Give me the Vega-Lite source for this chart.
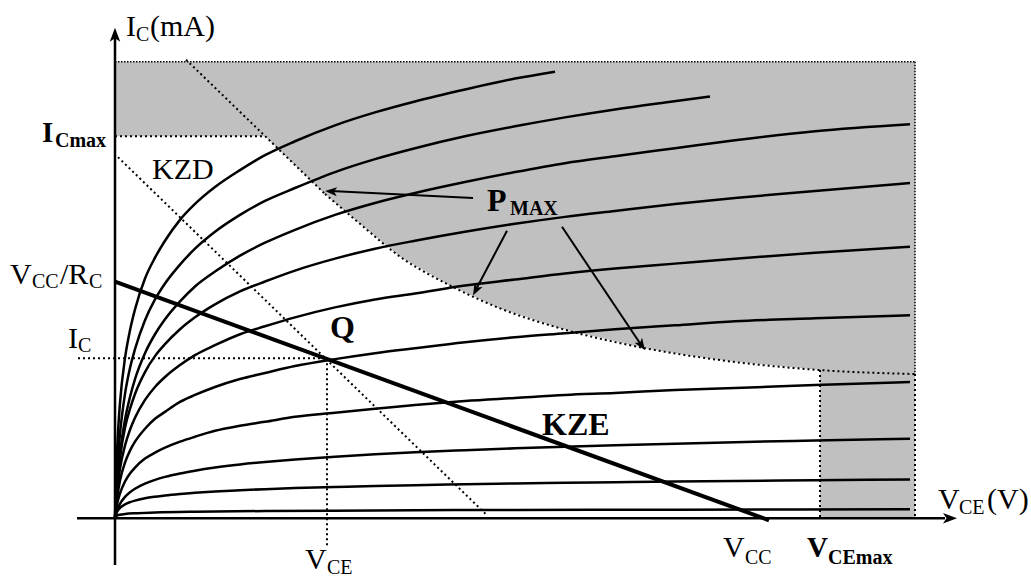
{
 "$schema": "https://vega.github.io/schema/vega-lite/v6.json",
 "width": 1031, "height": 578,
 "autosize": {"type": "fit", "contains": "padding"},
 "padding": 0,
 "background": "white",
 "config": {"view": {"stroke": null}},
 "datasets": {
  "shade": [
   {"V": 0, "I": 45.9, "I2": 38.4}, {"V": 15, "I": 45.9, "I2": 38.4}, {"V": 21, "I": 45.9, "I2": 32.6},
   {"V": 24.5, "I": 45.9, "I2": 29.6}, {"V": 28.5, "I": 45.9, "I2": 26.3}, {"V": 33.5, "I": 45.9, "I2": 23.4},
   {"V": 38.5, "I": 45.9, "I2": 21.1}, {"V": 44.5, "I": 45.9, "I2": 19.1}, {"V": 53, "I": 45.9, "I2": 17.1},
   {"V": 60.5, "I": 45.9, "I2": 15.9}, {"V": 70.5, "I": 45.9, "I2": 14.9}, {"V": 80, "I": 45.9, "I2": 14.5}
  ],
  "box": [{"V": 70.5, "V2": 80, "I": 0, "I2": 14.9}],
  "pmax": [
   {"V": 21, "I": 32.6}, {"V": 24.5, "I": 29.6}, {"V": 28.5, "I": 26.3}, {"V": 33.5, "I": 23.4},
   {"V": 38.5, "I": 21.1}, {"V": 44.5, "I": 19.1}, {"V": 53, "I": 17.1}, {"V": 60.5, "I": 15.9},
   {"V": 70.5, "I": 14.9}, {"V": 80, "I": 14.5}
  ],
  "dotsA": [
   {"V": 0, "I": 38.4, "V2": 15, "I2": 38.4},
   {"V": 7.1, "I": 46.1, "V2": 21, "I2": 32.6},
   {"V": 0.3, "I": 36.3, "V2": 37.1, "I2": 0.4},
   {"V": -3.7, "I": 16.1, "V2": 21.2, "I2": 16.1},
   {"V": 21.2, "I": 16.1, "V2": 21.2, "I2": -3},
   {"V": 70.5, "I": 14.9, "V2": 70.5, "I2": 0},
   {"V": 80, "I": 14.5, "V2": 80, "I2": 0}
  ],
  "dotsB": [
   {"V": 0, "I": 45.9, "V2": 80, "I2": 45.9},
   {"V": 80, "I": 45.9, "V2": 80, "I2": 14.5}
  ],
  "axes": [
   {"V": 0, "I": -4.7, "V2": 0, "I2": 48.5},
   {"V": -3.8, "I": 0, "V2": 83, "I2": 0}
  ],
  "load": [{"V": 0, "I": 23.8, "V2": 65.4, "I2": -0.2}],
  "shafts": [
   {"V": 35.8, "I": 32.2, "V2": 21.6, "I2": 32.9},
   {"V": 39.2, "I": 28.9, "V2": 36.2, "I2": 23.2},
   {"V": 44.7, "I": 29.3, "V2": 52.5, "I2": 17.6}
  ],
  "heads": [
   {"name": "y", "V": 0, "I": 49.3},
   {"name": "x", "V": 84.2, "I": 0},
   {"name": "a1", "V": 21, "I": 32.9},
   {"name": "a2", "V": 35.8, "I": 22.4},
   {"name": "a3", "V": 53, "I": 16.9}
  ],
  "curves": [
   {"c": 1, "V": 0, "I": 0}, {"c": 1, "V": 0.1, "I": 4.0}, {"c": 1, "V": 0.25, "I": 7.7}, {"c": 1, "V": 0.5, "I": 11.6},
   {"c": 1, "V": 1, "I": 16.1}, {"c": 1, "V": 1.5, "I": 18.9}, {"c": 1, "V": 2, "I": 21.0}, {"c": 1, "V": 3, "I": 24.1},
   {"c": 1, "V": 4, "I": 26.2}, {"c": 1, "V": 5, "I": 27.9}, {"c": 1, "V": 6.5, "I": 30.0}, {"c": 1, "V": 8, "I": 31.6},
   {"c": 1, "V": 10, "I": 33.3}, {"c": 1, "V": 12.5, "I": 35.0}, {"c": 1, "V": 15, "I": 36.5}, {"c": 1, "V": 18, "I": 37.9},
   {"c": 1, "V": 22, "I": 39.5}, {"c": 1, "V": 26, "I": 40.8}, {"c": 1, "V": 30, "I": 41.9}, {"c": 1, "V": 35, "I": 43.1},
   {"c": 1, "V": 40, "I": 44.2}, {"c": 1, "V": 44, "I": 44.9},
   {"c": 2, "V": 0, "I": 0}, {"c": 2, "V": 0.1, "I": 2.6}, {"c": 2, "V": 0.25, "I": 5.4}, {"c": 2, "V": 0.5, "I": 8.5},
   {"c": 2, "V": 1, "I": 12.5}, {"c": 2, "V": 1.5, "I": 15.1}, {"c": 2, "V": 2, "I": 17.0}, {"c": 2, "V": 3, "I": 19.9},
   {"c": 2, "V": 4, "I": 22.0}, {"c": 2, "V": 5, "I": 23.6}, {"c": 2, "V": 6.5, "I": 25.5}, {"c": 2, "V": 8, "I": 27.1},
   {"c": 2, "V": 10, "I": 28.8}, {"c": 2, "V": 12.5, "I": 30.5}, {"c": 2, "V": 15, "I": 31.9}, {"c": 2, "V": 18, "I": 33.2},
   {"c": 2, "V": 22, "I": 34.8}, {"c": 2, "V": 26, "I": 36.1}, {"c": 2, "V": 30, "I": 37.2}, {"c": 2, "V": 35, "I": 38.4},
   {"c": 2, "V": 40, "I": 39.4}, {"c": 2, "V": 45, "I": 40.3}, {"c": 2, "V": 50, "I": 41.1}, {"c": 2, "V": 55, "I": 41.8},
   {"c": 2, "V": 59.5, "I": 42.4},
   {"c": 3, "V": 0, "I": 0}, {"c": 3, "V": 0.1, "I": 1.8}, {"c": 3, "V": 0.25, "I": 4.0}, {"c": 3, "V": 0.5, "I": 6.5},
   {"c": 3, "V": 1, "I": 9.9}, {"c": 3, "V": 1.5, "I": 12.2}, {"c": 3, "V": 2, "I": 14.0}, {"c": 3, "V": 3, "I": 16.6},
   {"c": 3, "V": 4, "I": 18.5}, {"c": 3, "V": 5, "I": 20.0}, {"c": 3, "V": 6.5, "I": 21.8}, {"c": 3, "V": 8, "I": 23.3},
   {"c": 3, "V": 10, "I": 24.8}, {"c": 3, "V": 12.5, "I": 26.4}, {"c": 3, "V": 15, "I": 27.7}, {"c": 3, "V": 18, "I": 29.0},
   {"c": 3, "V": 22, "I": 30.5}, {"c": 3, "V": 26, "I": 31.7}, {"c": 3, "V": 30, "I": 32.7}, {"c": 3, "V": 35, "I": 33.8},
   {"c": 3, "V": 40, "I": 34.8}, {"c": 3, "V": 45, "I": 35.7}, {"c": 3, "V": 50, "I": 36.4}, {"c": 3, "V": 56, "I": 37.2},
   {"c": 3, "V": 62, "I": 38.0}, {"c": 3, "V": 70, "I": 38.9}, {"c": 3, "V": 79.5, "I": 39.6},
   {"c": 4, "V": 0, "I": 0}, {"c": 4, "V": 0.1, "I": 1.8}, {"c": 4, "V": 0.25, "I": 3.8}, {"c": 4, "V": 0.5, "I": 6.1},
   {"c": 4, "V": 1, "I": 9.1}, {"c": 4, "V": 1.5, "I": 11.0}, {"c": 4, "V": 2, "I": 12.5}, {"c": 4, "V": 3, "I": 14.7},
   {"c": 4, "V": 4, "I": 16.3}, {"c": 4, "V": 5, "I": 17.5}, {"c": 4, "V": 6.5, "I": 19.0}, {"c": 4, "V": 8, "I": 20.2},
   {"c": 4, "V": 10, "I": 21.5}, {"c": 4, "V": 12.5, "I": 22.8}, {"c": 4, "V": 15, "I": 23.8}, {"c": 4, "V": 18, "I": 24.9},
   {"c": 4, "V": 22, "I": 26.1}, {"c": 4, "V": 26, "I": 27.1}, {"c": 4, "V": 30, "I": 27.9}, {"c": 4, "V": 35, "I": 28.8},
   {"c": 4, "V": 40, "I": 29.6}, {"c": 4, "V": 45, "I": 30.3}, {"c": 4, "V": 50, "I": 30.9}, {"c": 4, "V": 56, "I": 31.6},
   {"c": 4, "V": 62, "I": 32.2}, {"c": 4, "V": 70, "I": 32.9}, {"c": 4, "V": 79.5, "I": 33.7},
   {"c": 5, "V": 0, "I": 0}, {"c": 5, "V": 0.1, "I": 1.5}, {"c": 5, "V": 0.25, "I": 3.1}, {"c": 5, "V": 0.5, "I": 5.0},
   {"c": 5, "V": 1, "I": 7.3}, {"c": 5, "V": 1.5, "I": 8.9}, {"c": 5, "V": 2, "I": 10.1}, {"c": 5, "V": 3, "I": 11.9},
   {"c": 5, "V": 4, "I": 13.2}, {"c": 5, "V": 5, "I": 14.2}, {"c": 5, "V": 6.5, "I": 15.4}, {"c": 5, "V": 8, "I": 16.4},
   {"c": 5, "V": 10, "I": 17.4}, {"c": 5, "V": 12.5, "I": 18.5}, {"c": 5, "V": 15, "I": 19.3}, {"c": 5, "V": 18, "I": 20.2},
   {"c": 5, "V": 22, "I": 21.2}, {"c": 5, "V": 26, "I": 22.0}, {"c": 5, "V": 30, "I": 22.6}, {"c": 5, "V": 35, "I": 23.4},
   {"c": 5, "V": 40, "I": 24.0}, {"c": 5, "V": 45, "I": 24.6}, {"c": 5, "V": 50, "I": 25.1}, {"c": 5, "V": 56, "I": 25.6},
   {"c": 5, "V": 62, "I": 26.1}, {"c": 5, "V": 70, "I": 26.7}, {"c": 5, "V": 79.5, "I": 27.3},
   {"c": 6, "V": 0, "I": 0}, {"c": 6, "V": 0.1, "I": 1.1}, {"c": 6, "V": 0.25, "I": 2.3}, {"c": 6, "V": 0.5, "I": 3.8},
   {"c": 6, "V": 1, "I": 5.6}, {"c": 6, "V": 1.5, "I": 6.8}, {"c": 6, "V": 2, "I": 7.7}, {"c": 6, "V": 3, "I": 9.0},
   {"c": 6, "V": 4, "I": 10.0}, {"c": 6, "V": 5, "I": 10.7}, {"c": 6, "V": 6.5, "I": 11.7}, {"c": 6, "V": 8, "I": 12.4},
   {"c": 6, "V": 10, "I": 13.2}, {"c": 6, "V": 12.5, "I": 14.0}, {"c": 6, "V": 15, "I": 14.6}, {"c": 6, "V": 18, "I": 15.3},
   {"c": 6, "V": 22, "I": 16.0}, {"c": 6, "V": 26, "I": 16.6}, {"c": 6, "V": 30, "I": 17.1}, {"c": 6, "V": 35, "I": 17.7},
   {"c": 6, "V": 40, "I": 18.2}, {"c": 6, "V": 45, "I": 18.6}, {"c": 6, "V": 50, "I": 19.0}, {"c": 6, "V": 56, "I": 19.4},
   {"c": 6, "V": 62, "I": 19.8}, {"c": 6, "V": 70, "I": 20.1}, {"c": 6, "V": 79.5, "I": 20.4},
   {"c": 7, "V": 0, "I": 0}, {"c": 7, "V": 0.1, "I": 0.7}, {"c": 7, "V": 0.25, "I": 1.6}, {"c": 7, "V": 0.5, "I": 2.5},
   {"c": 7, "V": 1, "I": 3.7}, {"c": 7, "V": 1.5, "I": 4.5}, {"c": 7, "V": 2, "I": 5.1}, {"c": 7, "V": 3, "I": 6.0},
   {"c": 7, "V": 4, "I": 6.6}, {"c": 7, "V": 5, "I": 7.1}, {"c": 7, "V": 6.5, "I": 7.7}, {"c": 7, "V": 8, "I": 8.2},
   {"c": 7, "V": 10, "I": 8.8}, {"c": 7, "V": 12.5, "I": 9.3}, {"c": 7, "V": 15, "I": 9.7}, {"c": 7, "V": 18, "I": 10.2},
   {"c": 7, "V": 22, "I": 10.6}, {"c": 7, "V": 26, "I": 11.0}, {"c": 7, "V": 30, "I": 11.4}, {"c": 7, "V": 35, "I": 11.8},
   {"c": 7, "V": 40, "I": 12.1}, {"c": 7, "V": 45, "I": 12.4}, {"c": 7, "V": 50, "I": 12.6}, {"c": 7, "V": 56, "I": 12.9},
   {"c": 7, "V": 62, "I": 13.1}, {"c": 7, "V": 70, "I": 13.4}, {"c": 7, "V": 79.5, "I": 13.7},
   {"c": 8, "V": 0, "I": 0}, {"c": 8, "V": 0.1, "I": 0.43}, {"c": 8, "V": 0.25, "I": 0.9}, {"c": 8, "V": 0.5, "I": 1.45},
   {"c": 8, "V": 1, "I": 2.15}, {"c": 8, "V": 1.5, "I": 2.62}, {"c": 8, "V": 2, "I": 2.97}, {"c": 8, "V": 3, "I": 3.48},
   {"c": 8, "V": 4, "I": 3.86}, {"c": 8, "V": 5, "I": 4.16}, {"c": 8, "V": 6.5, "I": 4.51}, {"c": 8, "V": 8, "I": 4.79},
   {"c": 8, "V": 10, "I": 5.1}, {"c": 8, "V": 12.5, "I": 5.41}, {"c": 8, "V": 15, "I": 5.66}, {"c": 8, "V": 18, "I": 5.91},
   {"c": 8, "V": 22, "I": 6.19}, {"c": 8, "V": 26, "I": 6.43}, {"c": 8, "V": 30, "I": 6.63}, {"c": 8, "V": 35, "I": 6.84},
   {"c": 8, "V": 40, "I": 7.03}, {"c": 8, "V": 45, "I": 7.2}, {"c": 8, "V": 50, "I": 7.35}, {"c": 8, "V": 56, "I": 7.5},
   {"c": 8, "V": 62, "I": 7.65}, {"c": 8, "V": 70, "I": 7.82}, {"c": 8, "V": 79.5, "I": 8.0},
   {"c": 9, "V": 0, "I": 0}, {"c": 9, "V": 0.1, "I": 0.4}, {"c": 9, "V": 0.25, "I": 0.73}, {"c": 9, "V": 0.5, "I": 1.05},
   {"c": 9, "V": 1, "I": 1.4}, {"c": 9, "V": 1.5, "I": 1.62}, {"c": 9, "V": 2, "I": 1.78}, {"c": 9, "V": 3, "I": 2.01},
   {"c": 9, "V": 4, "I": 2.17}, {"c": 9, "V": 5, "I": 2.3}, {"c": 9, "V": 6.5, "I": 2.45}, {"c": 9, "V": 8, "I": 2.57},
   {"c": 9, "V": 10, "I": 2.7}, {"c": 9, "V": 12.5, "I": 2.82}, {"c": 9, "V": 15, "I": 2.93}, {"c": 9, "V": 18, "I": 3.04},
   {"c": 9, "V": 22, "I": 3.15}, {"c": 9, "V": 26, "I": 3.25}, {"c": 9, "V": 30, "I": 3.33}, {"c": 9, "V": 35, "I": 3.42},
   {"c": 9, "V": 40, "I": 3.5}, {"c": 9, "V": 45, "I": 3.57}, {"c": 9, "V": 50, "I": 3.63}, {"c": 9, "V": 56, "I": 3.7},
   {"c": 9, "V": 62, "I": 3.76}, {"c": 9, "V": 70, "I": 3.83}, {"c": 9, "V": 79.5, "I": 3.9},
   {"c": 10, "V": 0, "I": 0}, {"c": 10, "V": 0.1, "I": 0.2}, {"c": 10, "V": 0.25, "I": 0.29}, {"c": 10, "V": 0.5, "I": 0.36},
   {"c": 10, "V": 1, "I": 0.43}, {"c": 10, "V": 2, "I": 0.51}, {"c": 10, "V": 4, "I": 0.58}, {"c": 10, "V": 8, "I": 0.66},
   {"c": 10, "V": 15, "I": 0.73}, {"c": 10, "V": 26, "I": 0.79}, {"c": 10, "V": 40, "I": 0.84}, {"c": 10, "V": 56, "I": 0.87},
   {"c": 10, "V": 79.5, "I": 0.91}
  ],
  "txtN": [
   {"t": "I", "V": 1.1, "I": 48.5}, {"t": "(mA)", "V": 3.5, "I": 48.5}, {"t": "KZD", "V": 3.7, "I": 34.1},
   {"t": "V", "V": -10.5, "I": 23.6}, {"t": "/R", "V": -5.5, "I": 23.6},
   {"t": "I", "V": -4.7, "I": 17.1},
   {"t": "V", "V": 19, "I": -5.1}, {"t": "V", "V": 60.8, "I": -3.9}, {"t": "V", "V": 82.3, "I": 0.9},
   {"t": "(V)", "V": 87.2, "I": 0.9}
  ],
  "txtNs": [
   {"t": "C", "V": 2.1, "I": 48}, {"t": "CC", "V": -8.3, "I": 23.1}, {"t": "C", "V": -2.6, "I": 23.1},
   {"t": "C", "V": -3.7, "I": 16.7}, {"t": "CE", "V": 21.2, "I": -5.6}, {"t": "CC", "V": 63, "I": -4.6},
   {"t": "CE", "V": 84.4, "I": 0.4}
  ],
  "txtB": [
   {"t": "I", "V": -7.3, "I": 37.8}, {"t": "V", "V": 69.2, "I": -3.9}
  ],
  "txtBs": [
   {"t": "Cmax", "V": -6, "I": 37.3}, {"t": "MAX", "V": 39.5, "I": 30.5}, {"t": "CEmax", "V": 71.3, "I": -4.6}
  ],
  "txtBL": [
   {"t": "Q", "V": 21.5, "I": 18.1}, {"t": "P", "V": 37.2, "I": 30.9}, {"t": "KZE", "V": 42.7, "I": 8.4}
  ]
 },
 "encoding": {
  "x": {"field": "V", "type": "quantitative", "scale": {"domain": [-11.5, 91.6], "nice": false, "zero": false}, "axis": null},
  "y": {"field": "I", "type": "quantitative", "scale": {"domain": [-5.7, 52.1], "nice": false, "zero": false}, "axis": null}
 },
 "layer": [
  {"data": {"name": "shade"}, "mark": {"type": "area", "color": "#c0c0c0", "interpolate": "linear"}, "encoding": {"y2": {"field": "I2"}}},
  {"data": {"name": "box"}, "mark": {"type": "rect", "color": "#c0c0c0"}, "encoding": {"x2": {"field": "V2"}, "y2": {"field": "I2"}}},
  {"data": {"name": "dotsA"}, "mark": {"type": "rule", "color": "black", "strokeWidth": 2, "strokeDash": [2, 3]}, "encoding": {"x2": {"field": "V2"}, "y2": {"field": "I2"}}},
  {"data": {"name": "pmax"}, "mark": {"type": "line", "color": "black", "strokeWidth": 2, "strokeDash": [2, 3], "interpolate": "monotone"}, "encoding": {}},
  {"data": {"name": "dotsB"}, "mark": {"type": "rule", "color": "black", "strokeWidth": 1.5, "strokeDash": [1.5, 1.5]}, "encoding": {"x2": {"field": "V2"}, "y2": {"field": "I2"}}},
  {"data": {"name": "curves"}, "mark": {"type": "line", "color": "black", "strokeWidth": 2.5, "interpolate": "monotone"}, "encoding": {"detail": {"field": "c", "type": "nominal"}}},
  {"data": {"name": "axes"}, "mark": {"type": "rule", "color": "black", "strokeWidth": 2.5}, "encoding": {"x2": {"field": "V2"}, "y2": {"field": "I2"}}},
  {"data": {"name": "load"}, "mark": {"type": "rule", "color": "black", "strokeWidth": 4}, "encoding": {"x2": {"field": "V2"}, "y2": {"field": "I2"}}},
  {"data": {"name": "shafts"}, "mark": {"type": "rule", "color": "black", "strokeWidth": 2}, "encoding": {"x2": {"field": "V2"}, "y2": {"field": "I2"}}},
  {"data": {"name": "heads"}, "transform": [{"filter": "datum.name == 'y'"}], "mark": {"type": "point", "filled": true, "color": "black", "opacity": 1, "shape": "M0,0 L-2,-0.75 L-1.5,0 L-2,0.75 Z", "size": 196, "angle": -90}},
  {"data": {"name": "heads"}, "transform": [{"filter": "datum.name == 'x'"}], "mark": {"type": "point", "filled": true, "color": "black", "opacity": 1, "shape": "M0,0 L-2,-0.75 L-1.5,0 L-2,0.75 Z", "size": 196, "angle": 0}},
  {"data": {"name": "heads"}, "transform": [{"filter": "datum.name == 'a1'"}], "mark": {"type": "point", "filled": true, "color": "black", "opacity": 1, "shape": "M0,0 L-2,-0.75 L-1.5,0 L-2,0.75 Z", "size": 144, "angle": 183}},
  {"data": {"name": "heads"}, "transform": [{"filter": "datum.name == 'a2'"}], "mark": {"type": "point", "filled": true, "color": "black", "opacity": 1, "shape": "M0,0 L-2,-0.75 L-1.5,0 L-2,0.75 Z", "size": 144, "angle": 117.6}},
  {"data": {"name": "heads"}, "transform": [{"filter": "datum.name == 'a3'"}], "mark": {"type": "point", "filled": true, "color": "black", "opacity": 1, "shape": "M0,0 L-2,-0.75 L-1.5,0 L-2,0.75 Z", "size": 144, "angle": 56.2}},
  {"data": {"name": "txtN"}, "mark": {"type": "text", "font": "Liberation Serif", "fontSize": 30, "align": "left", "baseline": "alphabetic", "color": "black"}, "encoding": {"text": {"field": "t"}}},
  {"data": {"name": "txtNs"}, "mark": {"type": "text", "font": "Liberation Serif", "fontSize": 20, "align": "left", "baseline": "alphabetic", "color": "black"}, "encoding": {"text": {"field": "t"}}},
  {"data": {"name": "txtB"}, "mark": {"type": "text", "font": "Liberation Serif", "fontSize": 29, "fontWeight": "bold", "align": "left", "baseline": "alphabetic", "color": "black"}, "encoding": {"text": {"field": "t"}}},
  {"data": {"name": "txtBs"}, "mark": {"type": "text", "font": "Liberation Serif", "fontSize": 20, "fontWeight": "bold", "align": "left", "baseline": "alphabetic", "color": "black"}, "encoding": {"text": {"field": "t"}}},
  {"data": {"name": "txtBL"}, "mark": {"type": "text", "font": "Liberation Serif", "fontSize": 32, "fontWeight": "bold", "align": "left", "baseline": "alphabetic", "color": "black"}, "encoding": {"text": {"field": "t"}}}
 ]
}
